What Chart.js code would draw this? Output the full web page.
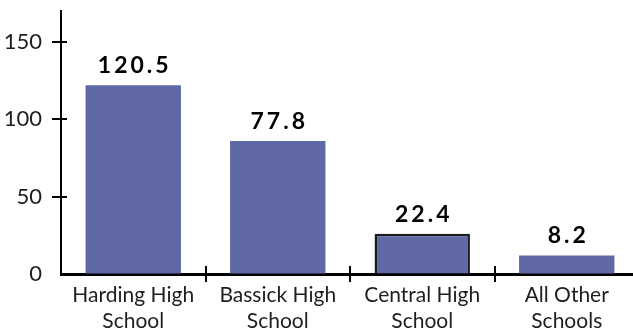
<!DOCTYPE html>
<html>
<head>
<meta charset="utf-8">
<script src="https://cdn.jsdelivr.net/npm/chart.js@4"></script>
<style>
  html, body { margin: 0; padding: 0; background: #fff; overflow: hidden; }
  #wrap { width: 640px; height: 333px; position: relative; }
</style>
</head>
<body>
<div id="wrap"><canvas id="schoolChart"></canvas></div>
<script>
// Data
const categories = [
  ['Harding High', 'School'],
  ['Bassick High', 'School'],
  ['Central High', 'School'],
  ['All Other', 'Schools']
];
const barValues = [122, 86, 26, 12];
const valueLabels = ['120.5', '77.8', '22.4', '8.2'];
const yTicks = [0, 50, 100, 150];
const yMax = 170;

const FONT = 'Lato, "DejaVu Sans", sans-serif';
const barColor = '#6068a6';

// tick marks that cross the axes + value labels over bars
const crossTicks = {
  id: 'crossTicks',
  afterDraw(chart) {
    const ctx = chart.ctx;
    const x = chart.scales.x;
    const y = chart.scales.y;
    const axisX = chart.chartArea.left;
    const axisY = chart.chartArea.bottom;
    ctx.save();
    ctx.strokeStyle = '#000';

    // y ticks
    ctx.lineWidth = 2;
    yTicks.forEach(v => {
      if (v === 0) return;
      const py = Math.round(y.getPixelForValue(v));
      ctx.beginPath();
      ctx.moveTo(axisX - 9, py);
      ctx.lineTo(axisX + 6, py);
      ctx.stroke();
    });

    // x ticks between categories
    const step = x.getPixelForValue(1) - x.getPixelForValue(0);
    for (let i = 0; i < categories.length; i++) {
      const px = Math.round(x.getPixelForValue(i) + step / 2);
      ctx.beginPath();
      ctx.moveTo(px, axisY - 8);
      ctx.lineTo(px, axisY + 8);
      ctx.stroke();
    }

    // value labels
    const meta = chart.getDatasetMeta(0);
    const spacing = 3;
    ctx.fillStyle = '#000';
    ctx.font = 'bold 23px ' + FONT;
    ctx.letterSpacing = spacing + 'px';
    ctx.textAlign = 'center';
    ctx.textBaseline = 'alphabetic';
    meta.data.forEach((bar, i) => {
      ctx.fillText(valueLabels[i], bar.x + spacing / 2, bar.y - 12);
    });
    ctx.restore();
  }
};

new Chart(document.getElementById('schoolChart'), {
  type: 'bar',
  data: {
    labels: categories,
    datasets: [{
      data: barValues,
      backgroundColor: barColor,
      borderColor: ['rgba(0,0,0,0)', 'rgba(0,0,0,0)', '#1a1a1a', 'rgba(0,0,0,0)'],
      borderWidth: [0, 0, 2.5, 0],
      barPercentage: 0.66,
      categoryPercentage: 1
    }]
  },
  options: {
    responsive: true,
    maintainAspectRatio: false,
    animation: false,
    layout: { padding: { top: 11, right: 1, left: 0, bottom: 0 } },
    plugins: {
      legend: { display: false },
      tooltip: { enabled: false }
    },
    scales: {
      x: {
        grid: { display: true, drawOnChartArea: false, drawTicks: false },
        border: { display: true, color: '#000', width: 3 },
        ticks: {
          color: '#1e1e1e',
          font: { family: FONT, size: 21, lineHeight: 1.2 },
          padding: 9,
          maxRotation: 0,
          autoSkip: false
        },
        afterFit(scale) {
          scale.height = 59;
          scale.paddingLeft = 0;
          scale.paddingRight = 0;
        }
      },
      y: {
        min: 0,
        max: yMax,
        grid: { display: true, drawOnChartArea: false, drawTicks: false },
        border: { display: true, color: '#000', width: 2 },
        ticks: {
          color: '#1e1e1e',
          font: { family: FONT, size: 22 },
          padding: 19
        },
        afterBuildTicks(scale) { scale.ticks = yTicks.map(v => ({ value: v })); },
        afterFit(scale) {
          scale.width = 61;
          scale.paddingTop = 0;
          scale.paddingBottom = 0;
        }
      }
    }
  },
  plugins: [crossTicks]
});
</script>
</body>
</html>
